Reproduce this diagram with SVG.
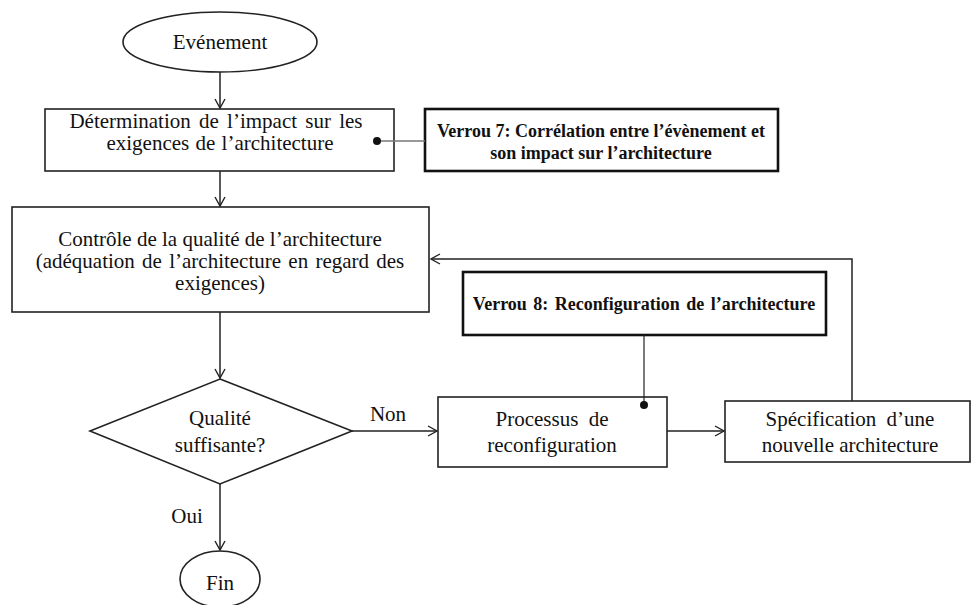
<svg xmlns="http://www.w3.org/2000/svg" width="971" height="605" viewBox="0 0 971 605">
<style>
text{font-family:'Liberation Serif',Tinos,'Times New Roman','DejaVu Serif',serif}
.t{font-size:21px;fill:#111;text-anchor:middle}
.b{font-size:18px;font-weight:bold;fill:#111;text-anchor:middle}
.box{fill:#fff;stroke:#222;stroke-width:1.6}
.vbox{fill:#fff;stroke:#111;stroke-width:2.6}
.c{fill:none;stroke:#222;stroke-width:1.5}
</style>
<defs>
<marker id="arr" markerWidth="12" markerHeight="12" refX="10" refY="6" orient="auto" markerUnits="userSpaceOnUse">
<polyline points="1,1 10,6 1,11" fill="none" stroke="#222" stroke-width="1.4"/>
</marker>
</defs>
<rect width="971" height="605" fill="#fff"/>
<g id="evenement">
<ellipse cx="220" cy="42" rx="97" ry="30" fill="#fff" stroke="#222" stroke-width="1.6"/>
<text class="t" x="220" y="49">Evénement</text>
</g>
<g id="determination">
<rect class="box" x="45" y="109" width="349" height="62"/>
<text class="t" x="216" y="128" word-spacing="3">Détermination de l’impact sur les</text>
<text class="t" x="220" y="150" word-spacing="1">exigences de l’architecture</text>
</g>
<g id="verrou7">
<rect class="vbox" x="425" y="109" width="353" height="62"/>
<text class="b" x="601" y="137">Verrou 7: Corrélation  entre l’évènement et</text>
<text class="b" x="601" y="159">son impact sur l’architecture</text>
</g>
<g id="controle">
<rect class="box" x="12" y="207" width="417" height="105"/>
<text class="t" x="220" y="245.5">Contrôle de la qualité de l’architecture</text>
<text class="t" x="220" y="267.5" word-spacing="2">(adéquation de l’architecture en regard des</text>
<text class="t" x="220" y="289.5">exigences)</text>
</g>
<g id="qualite">
<polygon points="220,379 352,431 220,484 90,431" fill="#fff" stroke="#222" stroke-width="1.6"/>
<text class="t" x="220" y="425">Qualité</text>
<text class="t" x="220" y="452">suffisante?</text>
</g>
<g id="verrou8">
<rect class="vbox" x="463" y="272" width="363" height="63"/>
<text class="b" x="644" y="310" word-spacing="2">Verrou 8: Reconfiguration de l’architecture</text>
</g>
<g id="processus">
<rect class="box" x="438" y="397" width="229" height="70"/>
<text class="t" x="552" y="426" word-spacing="5">Processus de</text>
<text class="t" x="552" y="452">reconfiguration</text>
</g>
<g id="specification">
<rect class="box" x="725" y="401" width="245" height="61"/>
<text class="t" x="850" y="426" word-spacing="5">Spécification d’une</text>
<text class="t" x="850" y="452">nouvelle architecture</text>
</g>
<g id="fin">
<ellipse cx="220" cy="579" rx="40" ry="28" fill="#fff" stroke="#222" stroke-width="1.6"/>
<text class="t" x="220" y="590">Fin</text>
</g>
<g id="connectors">
<line class="c" x1="220" y1="72" x2="220" y2="108" marker-end="url(#arr)"/>
<line class="c" x1="220" y1="171" x2="220" y2="206" marker-end="url(#arr)"/>
<line class="c" x1="220" y1="312" x2="220" y2="378" marker-end="url(#arr)"/>
<line class="c" x1="352" y1="431" x2="437" y2="431" marker-end="url(#arr)"/>
<line class="c" x1="667" y1="431" x2="724" y2="431" marker-end="url(#arr)"/>
<polyline class="c" points="852,401 852,259 431,259" marker-end="url(#arr)"/>
<line class="c" x1="220" y1="484" x2="220" y2="550" marker-end="url(#arr)"/>
<line x1="377" y1="141" x2="425" y2="141" stroke="#777" stroke-width="1.5"/>
<circle cx="377" cy="141" r="4" fill="#111"/>
<line x1="644" y1="335" x2="644" y2="404" stroke="#222" stroke-width="1.2"/>
<circle cx="644" cy="405" r="4" fill="#111"/>
<text class="t" x="388" y="421">Non</text>
<text class="t" x="187" y="523">Oui</text>
</g>
</svg>
